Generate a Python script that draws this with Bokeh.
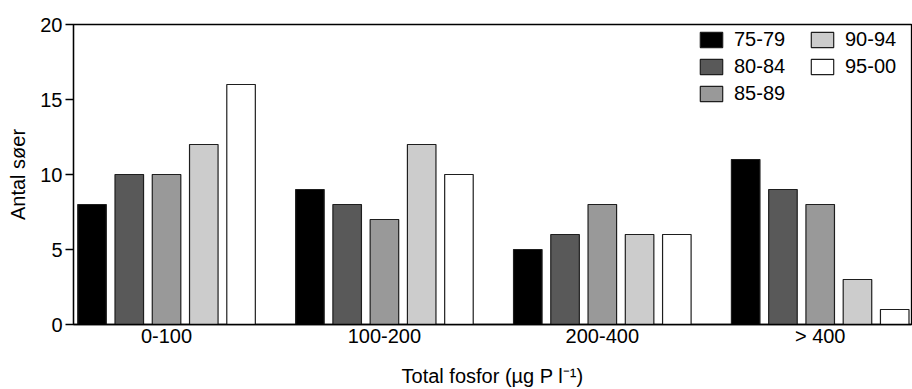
from bokeh.plotting import figure
from bokeh.models import ColumnDataSource, FixedTicker, Range1d, Legend, LegendItem
from bokeh.transform import dodge
from bokeh.embed import file_html
from bokeh.resources import INLINE

# ---- data ----
categories = ["0-100", "100-200", "200-400", "> 400"]
periods = ["75-79", "80-84", "85-89", "90-94", "95-00"]
v7579 = [8, 9, 5, 11]
v8084 = [10, 8, 6, 9]
v8589 = [10, 7, 8, 8]
v9094 = [12, 12, 6, 3]
v9500 = [16, 10, 6, 1]
y_ticks = [0, 5, 10, 15, 20]
x_title = "Total fosfor (µg P l⁻¹)"
y_title = "Antal søer"

series = [v7579, v8084, v8589, v9094, v9500]
colors = ["#000000", "#595959", "#999999", "#cccccc", "#ffffff"]
FONT = "Liberation Sans"

gx = list(range(1, len(categories) + 1))
data = {"gx": gx, "cat": categories}
for name, vals in zip(periods, series):
    data[name] = vals
src = ColumnDataSource(data)

p = figure(width=912, height=389,
           x_range=Range1d(0.573, 4.419), y_range=Range1d(0, 20),
           output_backend="svg", toolbar_location=None,
           min_border_left=73, min_border_right=1,
           min_border_top=24, min_border_bottom=65)

step = 0.171
bw = 0.131
items = []
for j, (name, col) in enumerate(zip(periods, colors)):
    r = p.vbar(x=dodge("gx", (j - 2) * step), top=name, width=bw, bottom=0,
               source=src, fill_color=col, line_color="#1e1e1e", line_width=1.2)
    items.append(LegendItem(label=name, renderers=[r]))

legend = Legend(items=items, location=(624, 219), orientation="vertical", nrows=3)
legend.label_text_font = FONT
legend.label_text_font_size = "20px"
legend.label_text_color = "#000000"
legend.glyph_width = 28
legend.glyph_height = 19
legend.label_standoff = 9
legend.label_width = 70
legend.spacing = 4
legend.padding = 0
legend.margin = 0
legend.border_line_color = None
legend.background_fill_alpha = 0
p.add_layout(legend)

p.xgrid.visible = False
p.ygrid.visible = False
p.outline_line_color = "#000000"
p.outline_line_width = 1.3

# x axis
xa = p.xaxis[0]
xa.ticker = FixedTicker(ticks=gx)
xa.major_label_overrides = {g: c for g, c in zip(gx, categories)}
xa.major_tick_line_color = None
xa.minor_tick_line_color = None
xa.major_tick_out = 0
xa.major_tick_in = 0
xa.axis_line_color = "#000000"
xa.axis_line_width = 1.3
xa.major_label_text_font = FONT
xa.major_label_text_font_size = "20px"
xa.major_label_text_color = "#000000"
xa.major_label_standoff = 0
xa.axis_label = x_title
xa.axis_label_text_font = FONT
xa.axis_label_text_font_size = "20px"
xa.axis_label_text_font_style = "normal"
xa.axis_label_text_color = "#000000"
xa.axis_label_standoff = 15

# y axis
ya = p.yaxis[0]
ya.ticker = FixedTicker(ticks=y_ticks)
ya.minor_tick_line_color = None
ya.major_tick_out = 8
ya.major_tick_in = 0
ya.major_tick_line_color = "#000000"
ya.major_tick_line_width = 1.3
ya.axis_line_color = "#000000"
ya.axis_line_width = 1.3
ya.major_label_text_font = FONT
ya.major_label_text_font_size = "20px"
ya.major_label_text_color = "#000000"
ya.major_label_standoff = 3
ya.axis_label = y_title
ya.axis_label_text_font = FONT
ya.axis_label_text_font_size = "20px"
ya.axis_label_text_font_style = "normal"
ya.axis_label_text_color = "#000000"
ya.axis_label_standoff = 8

open("out.html", "w").write(file_html(p, INLINE))
